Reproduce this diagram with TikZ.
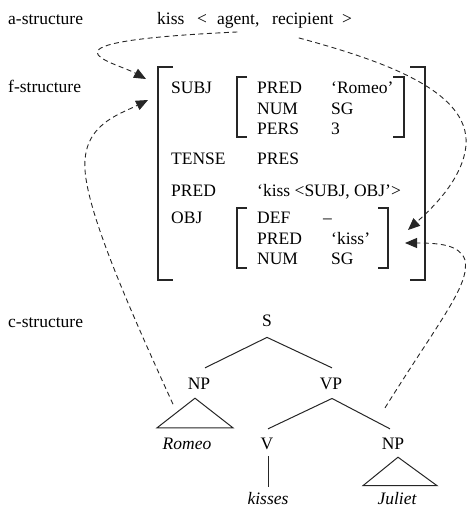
\documentclass[tikz,border=0pt]{standalone}
\usepackage{fontspec}
\setmainfont{Liberation Serif}
\usetikzlibrary{arrows.meta,calc}
\begin{document}
\begin{tikzpicture}[x=1pt,y=-1pt,
  txt/.style={anchor=base west, inner sep=0pt, font=\fontsize{17.5}{20}\selectfont},
  ctxt/.style={anchor=base, inner sep=0pt, font=\fontsize{17.5}{20}\selectfont},
  itxt/.style={anchor=base, inner sep=0pt, font=\fontsize{17.5}{20}\selectfont\itshape},
  brk/.style={line width=1.3pt, line join=miter, draw=black!85},
  treeline/.style={line width=1pt, draw=black!85},
  dlink/.style={line width=0.9pt, dash pattern=on 5pt off 3.5pt, draw=black!85,
    -{Triangle[length=12pt,width=10pt]}}
]
\useasboundingbox (0,0) rectangle (468,509);

% a-structure
\node[txt] (astr) at (8,24) {a-structure};
\node[txt] (kiss) at (157,24) {kiss};
\node[ctxt] (lt) at (202,24) {<};
\node[txt] (agent) at (217,24) {agent,};
\node[txt] (recip) at (272,24) {recipient};
\node[ctxt] (gt) at (347,24) {>};

% f-structure
\node[txt] (fstr) at (8,92) {f-structure};
\node[txt] (subj) at (171,93) {SUBJ};
\node[txt] (pred1) at (257,93) {PRED};
\node[txt] (romeoval) at (331,93) {‘Romeo’};
\node[txt] (num1) at (257,114) {NUM};
\node[txt] (sg1) at (331,114) {SG};
\node[txt] (pers) at (257,134) {PERS};
\node[txt] (three) at (331,134) {3};
\node[txt] (tense) at (171,164) {TENSE};
\node[txt] (pres) at (257,164) {PRES};
\node[txt] (pred2) at (171,196) {PRED};
\node[txt] (kissval) at (257,196) {‘kiss <SUBJ, OBJ’>};
\node[txt] (obj) at (171,223) {OBJ};
\node[txt] (def) at (257,223) {DEF};
\node[txt] (minus) at (323,223) {–};
\node[txt] (pred3) at (257,244) {PRED};
\node[txt] (kissval2) at (331,244) {‘kiss’};
\node[txt] (num2) at (257,264) {NUM};
\node[txt] (sg2) at (331,264) {SG};

% brackets
\draw[brk] (173,67) -- (158,67) -- (158,280) -- (173,280);
\draw[brk] (410,67) -- (425,67) -- (425,280) -- (410,280);
\draw[brk] (247,77) -- (237,77) -- (237,137) -- (247,137);
\draw[brk] (393,77) -- (404,77) -- (404,137) -- (393,137);
\draw[brk] (247,208) -- (237,208) -- (237,268) -- (247,268);
\draw[brk] (378,208) -- (388,208) -- (388,268) -- (378,268);

% c-structure
\node[txt] (cstr) at (8,327) {c-structure};
\node[ctxt] (S) at (267,326) {S};
\node[ctxt] (NPa) at (199,389) {NP};
\node[ctxt] (VP) at (331,389) {VP};
\node[itxt] (romeo) at (187,449) {Romeo};
\node[ctxt] (V) at (267,449) {V};
\node[ctxt] (NPb) at (393,449) {NP};
\node[itxt] (kisses) at (268,504) {kisses};
\node[itxt] (juliet) at (397,504) {Juliet};

\draw[treeline] ($(S.south)+(0,11)$) -- ($(NPa.north)+(6,-9.5)$);
\draw[treeline] ($(S.south)+(0,11)$) -- ($(VP.north)+(1,-9.5)$);
\draw[treeline] ($(VP.south)+(1,9)$) -- ($(V.north)+(1,-8.5)$);
\draw[treeline] ($(VP.south)+(1,9)$) -- ($(NPb.north)+(-3,-8.5)$);
\draw[treeline] ($(V.south)+(1,7)$) -- ($(kisses.north)+(0,-5)$);
\draw[treeline] ($(NPa.south)+(-4,9)$) -- ($(romeo.north)+(-30,-9.5)$)
  -- ($(romeo.north)+(46,-9.5)$) -- cycle;
\draw[treeline] ($(NPb.south)+(5,8)$) -- ($(juliet.north)+(-34,-6)$)
  -- ($(juliet.north)+(40,-6)$) -- cycle;

% mapping arrows
\coordinate (tipA) at (146,79);
\coordinate (tipB) at (148,100);
\coordinate (tipC) at (408,230);
\coordinate (tipD) at (405,243);

\draw[dlink] ($(agent.south)+(-1,4)$) .. controls (20,42) and (115,62) .. (tipA);
\draw[dlink] ($(NPa.south)+(-26,15)$) .. controls (130,310) and (88,215) .. (85,170)
  .. controls (82,125) and (118,115) .. (tipB);
\draw[dlink] ($(recip.south)+(-4,10)$) .. controls (380,60) and (470,90) .. (466,145)
  .. controls (463,180) and (430,210) .. (tipC);
\draw[dlink] ($(NPb.north)+(-8,-29.5)$) .. controls (440,320) and (470,285) .. (465,260)
  .. controls (460,245) and (440,243) .. (tipD);
\end{tikzpicture}
\end{document}
